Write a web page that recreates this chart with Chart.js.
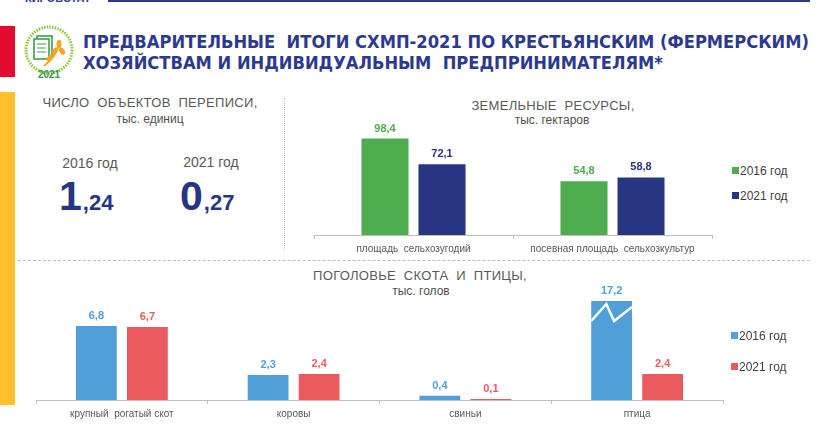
<!DOCTYPE html>
<html lang="ru">
<head>
<meta charset="utf-8">
<title>СХМП-2021</title>
<script src="https://cdn.jsdelivr.net/npm/chart.js@4/dist/chart.umd.min.js"></script>
<style>
  html, body { margin: 0; padding: 0; background: #fff; }
  body { width: 832px; height: 432px; position: relative; overflow: hidden; font-family: "Liberation Sans", Arial, sans-serif; }
  .abs { position: absolute; }
  .grey { color: #595959; }
  .title { font-family: "Liberation Sans Narrow", "DejaVu Sans Condensed", "Roboto Condensed", sans-serif; font-stretch: condensed;
           font-weight: bold; font-size: 18px; color: #2b3990; white-space: pre; transform-origin: 0 50%; line-height: 20px; }
  .head { font-size: 13px; letter-spacing: 0.3px; white-space: pre; text-align: center; line-height: 15px; }
  .sub { font-size: 12px; color: #505050; text-align: center; white-space: pre; line-height: 14px; }
  .legend { font-size: 12px; color: #404040; white-space: nowrap; line-height: 14px; }
  .legend i { display: inline-block; width: 7px; height: 7px; margin-right: 1px; vertical-align: 1px; }
  .year { font-size: 14px; color: #595959; width: 90px; text-align: center; }
  .big { color: #283583; font-weight: bold; white-space: nowrap; }
  .big b { font-size: 41px; }
  .big span { font-size: 22px; margin-left: 1px; }
</style>
</head>
<body>

<!-- header strip -->
<div class="abs" style="left:25px;top:-8px;font-size:11px;font-weight:bold;color:#2b3990;">КИРОВСТАТ</div>
<div class="abs" style="left:108px;top:0;width:702px;height:2px;background:#2b3990;"></div>
<div class="abs" style="left:0;top:26px;width:15px;height:51px;background:#e30b2e;"></div>
<div class="abs" style="left:0;top:92px;width:15px;height:313px;background:#ffc12b;"></div>

<!-- logo -->
<svg class="abs" style="left:22px;top:24px;" width="54" height="56" viewBox="0 0 54 56">
  <circle cx="27" cy="26" r="23" fill="none" stroke="#8cc63f" stroke-width="3" stroke-dasharray="1.5 1.2"/>
  <rect x="15" y="12" width="15" height="20" fill="#fff" stroke="#3aa14a" stroke-width="1.6"/>
  <rect x="12" y="15" width="15" height="20" fill="#fff" stroke="#3aa14a" stroke-width="1.6"/>
  <line x1="15" y1="20" x2="24" y2="20" stroke="#3aa14a"/>
  <line x1="15" y1="24" x2="24" y2="24" stroke="#3aa14a"/>
  <line x1="15" y1="28" x2="24" y2="28" stroke="#3aa14a"/>
  <path d="M22 42 C30 36 36 28 38 16" fill="none" stroke="#f5a623" stroke-width="2"/>
  <ellipse cx="37" cy="20" rx="2.5" ry="4" fill="#f5a623"/>
  <ellipse cx="33" cy="27" rx="2.5" ry="4" fill="#f5a623" transform="rotate(30 33 27)"/>
  <ellipse cx="40" cy="27" rx="2.5" ry="4" fill="#f5a623" transform="rotate(-30 40 27)"/>
  <ellipse cx="28" cy="34" rx="2.5" ry="4" fill="#f5a623" transform="rotate(50 28 34)"/>
  <text x="27" y="54" text-anchor="middle" font-family="Liberation Sans, Arial" font-weight="bold" font-size="10" fill="#2e9a44">2021</text>
</svg>

<!-- title -->
<div id="t1" class="abs title" style="left:83px;top:32px;">ПРЕДВАРИТЕЛЬНЫЕ  ИТОГИ СХМП-2021 ПО КРЕСТЬЯНСКИМ (ФЕРМЕРСКИМ)</div>
<div id="t2" class="abs title" style="left:83px;top:53px;">ХОЗЯЙСТВАМ И ИНДИВИДУАЛЬНЫМ  ПРЕДПРИНИМАТЕЛЯМ*</div>

<!-- separators -->
<div class="abs" style="left:284px;top:98px;height:152px;border-left:1px dotted #bfbfbf;"></div>
<div class="abs" style="left:18px;top:260px;width:792px;border-top:1px dashed #bfbfbf;"></div>

<!-- left panel -->
<div class="abs head grey" style="left:20px;top:95px;width:260px;">ЧИСЛО  ОБЪЕКТОВ  ПЕРЕПИСИ,</div>
<div class="abs sub" style="left:20px;top:112px;width:260px;">тыс. единиц</div>
<div id="unitsPanel"></div>

<!-- land chart -->
<div class="abs head grey" style="left:403px;top:98px;width:300px;">ЗЕМЕЛЬНЫЕ  РЕСУРСЫ,</div>
<div class="abs sub" style="left:402px;top:113px;width:300px;">тыс. гектаров</div>
<canvas id="landChart" class="abs" style="left:300px;top:110px;" width="420" height="150"></canvas>
<div class="abs legend" style="left:732px;top:164px;"><i style="background:#4ead4f"></i>2016 год</div>
<div class="abs legend" style="left:732px;top:189px;"><i style="background:#283583"></i>2021 год</div>

<!-- livestock chart -->
<div class="abs head grey" style="left:270px;top:268px;width:300px;">ПОГОЛОВЬЕ  СКОТА  И  ПТИЦЫ,</div>
<div class="abs sub" style="left:271px;top:284px;width:300px;">тыс. голов</div>
<canvas id="stockChart" class="abs" style="left:20px;top:282px;" width="720" height="142"></canvas>
<div class="abs legend" style="left:731px;top:329px;"><i style="background:#519fd8"></i>2016 год</div>
<div class="abs legend" style="left:731px;top:360px;"><i style="background:#ea5b5f"></i>2021 год</div>

<script>
'use strict';
const unitYears = ['2016 год', '2021 год'];
const unitValues = [1.24, 0.27];

const landCategories = ['площадь  сельхозугодий', 'посевная площадь  сельхозкультур'];
const land2016 = [98.4, 54.8];
const land2021 = [72.1, 58.8];

const stockCategories = ['крупный  рогатый скот', 'коровы', 'свиньи', 'птица'];
const stock2016 = [6.8, 2.3, 0.4, 17.2];
const stock2021 = [6.7, 2.4, 0.1, 2.4];

const fontFamily = '"Liberation Sans", Arial, sans-serif';

// squeeze the heading so it fits like the original
const titleWidth = document.getElementById('t1').getBoundingClientRect().width;
for (const id of ['t1', 't2']) {
  document.getElementById(id).style.transform = 'scaleX(' + (726 / titleWidth) + ')';
}

// left panel numbers
const panel = document.getElementById('unitsPanel');
const panelX = [45, 166];
for (let i = 0; i < unitYears.length; i++) {
  let year = document.createElement('div');
  year.className = 'abs year';
  year.style.left = panelX[i] + 'px';
  year.style.top = (155 - i) + 'px';
  year.textContent = unitYears[i];
  panel.appendChild(year);

  let parts = unitValues[i].toFixed(2).split('.');
  let num = document.createElement('div');
  num.className = 'abs big';
  num.style.left = (panelX[i] + 14) + 'px';
  num.style.top = '173px';
  num.innerHTML = '<b>' + parts[0] + '</b><span>,' + parts[1] + '</span>';
  panel.appendChild(num);
}

const valueLabels = {
  id: 'valueLabels',
  afterDatasetsDraw(chart) {
    const ctx = chart.ctx;
    const top = chart.chartArea.top;
    chart.data.datasets.forEach((ds, i) => {
      chart.getDatasetMeta(i).data.forEach((bar, j) => {
        const y = Math.max(bar.y, top);
        ctx.save();
        if (bar.y < top) {
          // broken bar mark
          const left = bar.x - bar.width / 2;
          ctx.strokeStyle = '#fff';
          ctx.lineWidth = 2.5;
          ctx.beginPath();
          ctx.moveTo(left, top + 20);
          ctx.lineTo(left + bar.width * 0.37, top + 3);
          ctx.lineTo(left + bar.width * 0.56, top + 20);
          ctx.lineTo(left + bar.width, top + 6);
          ctx.stroke();
        }
        ctx.font = 'bold 11px ' + fontFamily;
        ctx.fillStyle = ds.labelColor;
        ctx.textAlign = 'center';
        ctx.textBaseline = 'middle';
        ctx.fillText(ds.data[j].toFixed(1).replace('.', ','), bar.x, y - 10);
        ctx.restore();
      });
    });
  }
};

function barChart(id, labels, a, b, colors, pad, yMax, catPct, barPct) {
  return new Chart(document.getElementById(id), {
    type: 'bar',
    data: {
      labels: labels,
      datasets: [
        { label: '2016 год', data: a, backgroundColor: colors[0], labelColor: colors[0], categoryPercentage: catPct, barPercentage: barPct },
        { label: '2021 год', data: b, backgroundColor: colors[1], labelColor: colors[1], categoryPercentage: catPct, barPercentage: barPct }
      ]
    },
    options: {
      responsive: false,
      animation: false,
      layout: { padding: pad },
      plugins: { legend: { display: false }, tooltip: { enabled: false } },
      scales: {
        x: {
          grid: { drawOnChartArea: false, tickLength: 4, color: '#bfbfbf' },
          border: { color: '#bfbfbf' },
          ticks: { color: '#595959', font: { size: 10, family: fontFamily }, padding: 4, maxRotation: 0, autoSkip: false }
        },
        y: { display: false, min: 0, max: yMax }
      }
    },
    plugins: [valueLabels]
  });
}

barChart('landChart', landCategories, land2016, land2021, ['#4ead4f', '#283583'],
  { left: 14, right: 8, top: 27, bottom: 1 }, 100, 0.573, 0.825);

barChart('stockChart', stockCategories, stock2016, stock2021, ['#519fd8', '#ea5b5f'],
  { left: 16, right: 17, top: 19, bottom: 0 }, 9.1, 0.594, 0.8);
</script>
</body>
</html>
